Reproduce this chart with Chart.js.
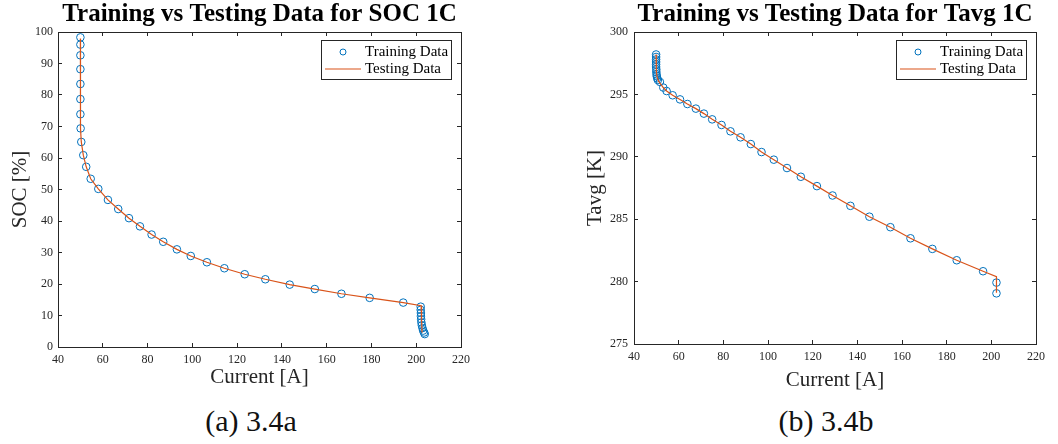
<!DOCTYPE html>
<html>
<head>
<meta charset="utf-8">
<script src="https://cdn.jsdelivr.net/npm/chart.js@4/dist/chart.umd.min.js"></script>
<style>
    body { margin: 0; background: #fff; }
    #wrap { position: relative; width: 1058px; height: 444px; overflow: hidden; }
    canvas { position: absolute; top: 0; }
    .caption {
        position: absolute; top: 406px; width: 300px; text-align: center;
        font-family: 'Liberation Serif', serif; font-size: 30px; line-height: 30px; color: #111;
    }
</style>
</head>
<body>
<div id="wrap">
    <canvas id="socChart" width="529" height="395" style="left:0"></canvas>
    <canvas id="tavgChart" width="529" height="395" style="left:529px"></canvas>
    <div class="caption" style="left:101px">(a) 3.4a</div>
    <div class="caption" style="left:676px">(b) 3.4b</div>
</div>
<script>
// SOC vs current (left)
const socTrainI = [50.0, 50.0, 50.0, 50.0, 50.0, 50.0, 50.0, 50.1, 50.4, 51.3, 52.6, 54.6, 58.0, 62.3, 66.9, 71.7, 76.6, 81.8, 87.0, 93.1, 99.3, 106.5, 114.3, 123.4, 132.6, 143.5, 154.7, 166.6, 179.2, 194.2, 202.0, 202.0, 202.1, 202.1, 202.2, 202.3, 202.5, 202.8, 203.1, 203.5, 203.8];
const socTrainV = [98.3, 96.0, 92.6, 88.2, 83.5, 78.7, 73.9, 69.4, 65.1, 60.9, 57.2, 53.4, 50.2, 46.7, 43.8, 40.9, 38.3, 35.7, 33.4, 31.0, 28.9, 26.9, 25.0, 23.1, 21.5, 19.8, 18.4, 16.9, 15.6, 14.1, 12.8, 11.8, 10.8, 9.8, 8.8, 7.8, 6.9, 6.0, 5.2, 4.6, 4.1];
const socTestI = [50.0, 50.0, 50.1, 50.4, 51.3, 52.6, 54.6, 58.0, 62.3, 66.9, 71.7, 76.6, 81.8, 87.0, 93.1, 99.3, 106.5, 114.3, 123.4, 132.6, 143.5, 154.7, 166.6, 179.2, 194.2, 202.2, 202.4, 202.6];
const socTestV = [97.9, 73.9, 69.4, 65.1, 60.9, 57.2, 53.4, 50.2, 46.7, 43.8, 40.9, 38.3, 35.7, 33.4, 31.0, 28.9, 26.9, 25.0, 23.1, 21.5, 19.8, 18.4, 16.9, 15.6, 14.1, 13.1, 8.5, 4.6];

// Tavg vs current (right)
const tTrainI = [49.9, 49.9, 49.9, 49.9, 49.9, 49.9, 50.0, 50.0, 50.1, 50.2, 50.4, 50.7, 51.6, 53.1, 54.6, 57.3, 60.6, 63.9, 67.7, 71.3, 75.0, 79.2, 83.2, 87.7, 92.3, 97.1, 102.6, 108.5, 114.7, 121.9, 128.9, 136.9, 145.4, 154.8, 163.8, 173.6, 184.5, 196.3, 202.3, 202.3];
const tTrainV = [298.2, 298.0, 297.8, 297.6, 297.4, 297.2, 297.0, 296.8, 296.6, 296.45, 296.3, 296.15, 296.0, 295.55, 295.27, 294.93, 294.6, 294.23, 293.86, 293.46, 293.0, 292.55, 292.04, 291.56, 291.02, 290.38, 289.77, 289.1, 288.4, 287.65, 286.9, 286.07, 285.2, 284.36, 283.47, 282.62, 281.71, 280.83, 279.92, 279.06];
const tTestI = [49.9, 50.0, 50.3, 50.9, 51.6, 53.1, 54.6, 57.3, 60.6, 63.9, 67.7, 71.3, 75.0, 79.2, 83.2, 87.7, 92.3, 97.1, 102.6, 108.5, 114.7, 121.9, 128.9, 136.9, 145.4, 154.8, 163.8, 173.6, 184.5, 196.3, 202.3, 202.3];
const tTestV = [298.2, 296.9, 296.4, 296.1, 295.9, 295.55, 295.27, 294.93, 294.6, 294.23, 293.86, 293.46, 293.0, 292.55, 292.04, 291.56, 291.02, 290.38, 289.77, 289.1, 288.4, 287.65, 286.9, 286.07, 285.2, 284.36, 283.47, 282.62, 281.71, 280.83, 280.4, 279.1];

const seriesLabels = ['Training Data', 'Testing Data'];
const xTickRange = [40, 220, 20];
const socTickRange = [0, 100, 10];
const tavgTickRange = [275, 300, 5];

const AXIS = '#262626';
const BLUE = '#0072BD';
const ORANGE = '#D95319';
const SERIF = "'Liberation Serif', 'Times New Roman', serif";

// legend box drawn inside the plot, top right (matlab style)
const boxLegend = {
    id: 'boxLegend',
    afterDraw(chart) {
        const { ctx, chartArea } = chart;
        const w = 130, h = 39;
        const x = Math.round(chartArea.right - 10 - w);
        const y = Math.round(chartArea.top + 8);
        ctx.save();
        ctx.fillStyle = '#fff';
        ctx.fillRect(x, y, w, h);
        ctx.strokeStyle = AXIS;
        ctx.lineWidth = 1;
        ctx.strokeRect(x + 0.5, y + 0.5, w, h);

        const ds = chart.data.datasets;
        ctx.strokeStyle = ds[0].borderColor;
        ctx.beginPath();
        ctx.arc(x + 22, y + 12, 3, 0, Math.PI * 2);
        ctx.stroke();

        ctx.strokeStyle = ds[1].borderColor;
        ctx.lineWidth = 1.2;
        ctx.beginPath();
        ctx.moveTo(x + 4, y + 29);
        ctx.lineTo(x + 40, y + 29);
        ctx.stroke();

        ctx.fillStyle = '#000';
        ctx.font = '15px ' + SERIF;
        ctx.textBaseline = 'middle';
        ctx.fillText(ds[0].label, x + 44, y + 12);
        ctx.fillText(ds[1].label, x + 44, y + 29);
        ctx.restore();
    }
};

function toPoints(xs, ys) {
    return xs.map((x, i) => ({ x: x, y: ys[i] }));
}

function edgeScale(position, range) {
    // tick marks only, used for the box on top / right
    return {
        type: 'linear',
        position: position,
        min: range[0],
        max: range[1],
        ticks: { display: false, stepSize: range[2] },
        grid: { drawOnChartArea: false, tickLength: -4, color: AXIS },
        border: { color: AXIS, width: 1 },
        afterFit: (scale) => {
            if (position === 'top') scale.height = 0;
            else scale.width = 0;
        }
    };
}

function makeChart(canvasId, opts) {
    return new Chart(document.getElementById(canvasId), {
        type: 'scatter',
        data: {
            datasets: [{
                label: seriesLabels[0],
                data: toPoints(opts.trainX, opts.trainY),
                showLine: false,
                pointStyle: 'circle',
                pointRadius: 3.8,
                pointBorderWidth: 1,
                borderColor: BLUE,
                backgroundColor: 'rgba(0,0,0,0)',
                order: 1
            }, {
                label: seriesLabels[1],
                data: toPoints(opts.testX, opts.testY),
                showLine: true,
                pointRadius: 0,
                borderColor: ORANGE,
                borderWidth: 1.2,
                backgroundColor: ORANGE,
                order: 0
            }]
        },
        options: {
            responsive: false,
            animation: false,
            layout: { padding: { left: opts.padLeft, right: opts.padRight, top: 0, bottom: 0 } },
            plugins: {
                legend: { display: false },
                tooltip: { enabled: false },
                title: {
                    display: true,
                    fullSize: false,
                    text: opts.title,
                    color: '#000',
                    font: { family: SERIF, size: 25, weight: 'bold' },
                    padding: { top: 0, bottom: 2 }
                }
            },
            scales: {
                x: {
                    type: 'linear',
                    position: 'bottom',
                    min: xTickRange[0],
                    max: xTickRange[1],
                    ticks: { stepSize: xTickRange[2], color: AXIS, padding: 10, font: { family: SERIF, size: 12 } },
                    grid: { drawOnChartArea: false, tickLength: -4, color: AXIS },
                    border: { color: AXIS, width: 1 },
                    title: {
                        display: true,
                        text: 'Current [A]',
                        color: AXIS,
                        font: { family: SERIF, size: 21 },
                        padding: { top: 0, bottom: opts.xTitlePad }
                    },
                    afterFit: (scale) => { scale.height = opts.xHeight; }
                },
                y: {
                    type: 'linear',
                    position: 'left',
                    min: opts.yRange[0],
                    max: opts.yRange[1],
                    ticks: { stepSize: opts.yRange[2], color: AXIS, padding: opts.yTickPad, font: { family: SERIF, size: 12 } },
                    grid: { drawOnChartArea: false, tickLength: -4, color: AXIS },
                    border: { color: AXIS, width: 1 },
                    title: {
                        display: true,
                        text: opts.yTitle,
                        color: AXIS,
                        font: { family: SERIF, size: 21 },
                        padding: { top: opts.yTitlePad, bottom: 0 }
                    },
                    afterFit: (scale) => { scale.width = opts.yWidth; }
                },
                xTop: edgeScale('top', xTickRange),
                yRight: edgeScale('right', opts.yRange)
            }
        },
        plugins: [boxLegend]
    });
}

document.addEventListener('DOMContentLoaded', () => {
    makeChart('socChart', {
        title: 'Training vs Testing Data for SOC 1C',
        yTitle: 'SOC [%]',
        yRange: socTickRange,
        trainX: socTrainI, trainY: socTrainV,
        testX: socTestI, testY: socTestV,
        padLeft: 0, padRight: 68,
        yWidth: 58, yTickPad: 9, yTitlePad: 8,
        xHeight: 48, xTitlePad: 5
    });

    makeChart('tavgChart', {
        title: 'Training vs Testing Data for Tavg 1C',
        yTitle: 'Tavg [K]',
        yRange: tavgTickRange,
        trainX: tTrainI, trainY: tTrainV,
        testX: tTestI, testY: tTestV,
        padLeft: 44, padRight: 22,
        yWidth: 61, yTickPad: 10, yTitlePad: 10,
        xHeight: 51, xTitlePad: 2
    });
});
</script>
</body>
</html>
